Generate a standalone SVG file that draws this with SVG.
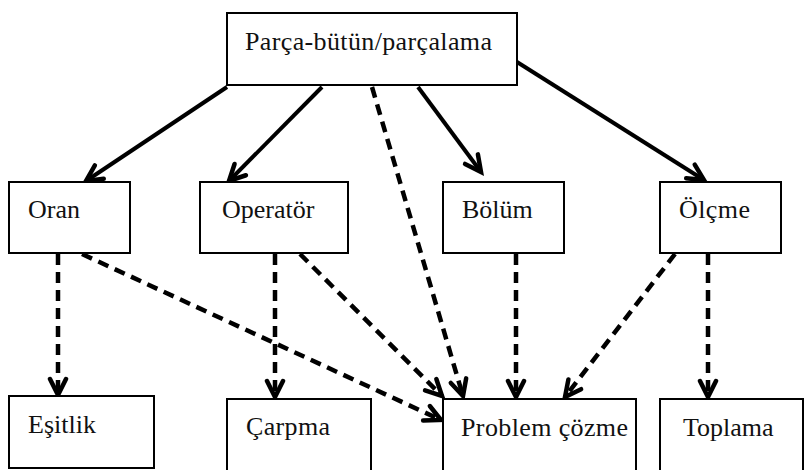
<svg xmlns="http://www.w3.org/2000/svg" width="804" height="470" viewBox="0 0 804 470">
<defs>
<style>
.box{fill:#fff;stroke:#000;stroke-width:2}
.lbl{font-family:"Liberation Serif","Times New Roman",serif;font-size:26px;fill:#111}
.solid{stroke:#000;stroke-width:4;fill:none;marker-end:url(#arr)}
.dash{stroke:#000;stroke-width:4.5;fill:none;stroke-dasharray:11 7;marker-end:url(#arr)}
</style>
<marker id="arr" markerUnits="userSpaceOnUse" viewBox="0 0 24 24" refX="19" refY="12" markerWidth="24" markerHeight="24" orient="auto">
<path d="M3,4 L19,12 L3,20" fill="none" stroke="#000" stroke-width="4.5" stroke-dasharray="none" stroke-linejoin="miter" stroke-linecap="round"/>
</marker>
</defs>
<rect width="804" height="470" fill="#fff"/>
<g id="connectors">
<line class="solid" x1="227" y1="87" x2="86" y2="181"/>
<line class="solid" x1="322" y1="87" x2="229" y2="181"/>
<line class="solid" x1="418" y1="87" x2="481" y2="172"/>
<line class="solid" x1="517" y1="62" x2="704" y2="180"/>
<line class="dash" x1="372" y1="87" x2="463" y2="396"/>
<line class="dash" x1="58" y1="254" x2="58" y2="395"/>
<line class="dash" x1="82" y1="254" x2="441" y2="420"/>
<line class="dash" x1="275" y1="254" x2="275" y2="397"/>
<line class="dash" x1="300" y1="254" x2="442" y2="396"/>
<line class="dash" x1="516" y1="254" x2="516" y2="397"/>
<line class="dash" x1="675" y1="254" x2="565" y2="397"/>
<line class="dash" x1="708" y1="254" x2="708" y2="397"/>
</g>
<g id="node-top"><rect class="box" x="227" y="13" width="290" height="72"/><text class="lbl" x="245" y="50" textLength="247" lengthAdjust="spacing">Parça-bütün/parçalama</text></g>
<g id="node-oran"><rect class="box" x="9" y="182" width="121" height="71"/><text class="lbl" x="28" y="218">Oran</text></g>
<g id="node-operator"><rect class="box" x="200" y="182" width="148" height="71"/><text class="lbl" x="222" y="218">Operatör</text></g>
<g id="node-bolum"><rect class="box" x="443" y="182" width="121" height="71"/><text class="lbl" x="462" y="218">Bölüm</text></g>
<g id="node-olcme"><rect class="box" x="660" y="182" width="121" height="71"/><text class="lbl" x="679" y="218" textLength="71" lengthAdjust="spacing">Ölçme</text></g>
<g id="node-esitlik"><rect class="box" x="9" y="396" width="145" height="72"/><text class="lbl" x="28" y="433">Eşitlik</text></g>
<g id="node-carpma"><rect class="box" x="227" y="399" width="144" height="80"/><text class="lbl" x="246" y="435" textLength="84" lengthAdjust="spacing">Çarpma</text></g>
<g id="node-problem"><rect class="box" x="443" y="399" width="193" height="80"/><text class="lbl" x="461" y="436" textLength="167" lengthAdjust="spacing">Problem çözme</text></g>
<g id="node-toplama"><rect class="box" x="660" y="399" width="143" height="80"/><text class="lbl" x="683" y="436">Toplama</text></g>
</svg>
